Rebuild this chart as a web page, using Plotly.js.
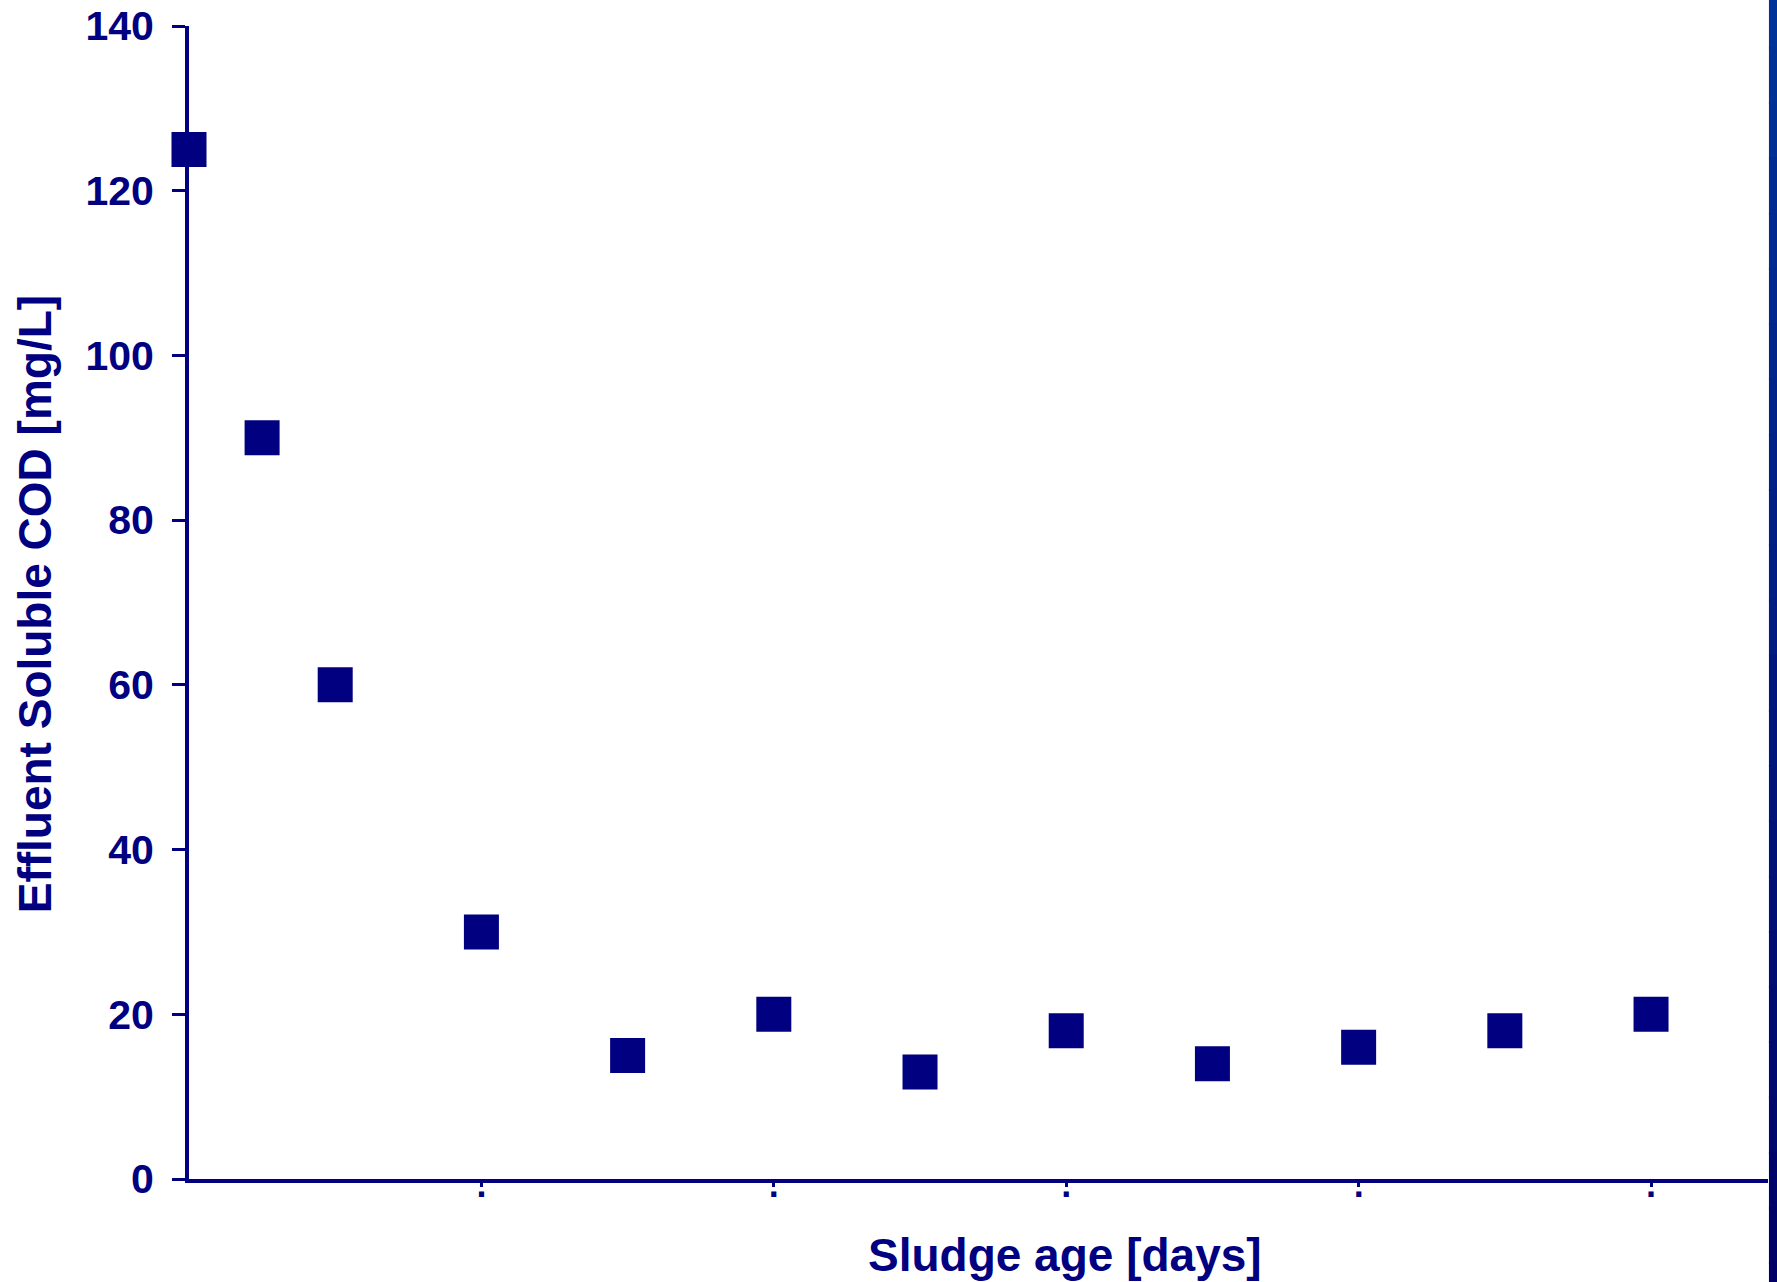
<!DOCTYPE html>
<html>
<head>
<meta charset="utf-8">
<script src="https://cdn.plot.ly/plotly-3.0.1.min.js"></script>
<style>html,body{margin:0;padding:0;background:#fff;}#chart{width:1777px;height:1282px;}</style>
</head>
<body>
<div id="chart"></div>
<script>
// Data
const sludgeAge = [0, 2.5, 5, 10, 15, 20, 25, 30, 35, 40, 45, 50];
const effluentCOD = [125, 90, 60, 30, 15, 20, 13, 18, 14, 16, 18, 20];
const xTickVals = [10, 20, 30, 40, 50];
const xTickText = ['.', '.', '.', '.', '.'];
const yTickVals = [0, 20, 40, 60, 80, 100, 120, 140];
const xTitle = 'Sludge age [days]';
const yTitle = 'Effluent Soluble COD [mg/L]';

const navy = '#000080';
const fontFam = '"Liberation Sans", Arial, sans-serif';

// right-edge decorative band (vertical gradient approximated by stacked rects)
const bandShapes = [];
const nBand = 24;
const bandTop = [0x00, 0x33, 0x99], bandBot = [0x00, 0x00, 0x66];
for (let i = 0; i < nBand; i++) {
  const t = i / (nBand - 1);
  const c = bandTop.map((v, k) => Math.round(v + (bandBot[k] - v) * t));
  const y1 = 1.03 - i * (1.15 / nBand);
  const y0 = y1 - 1.15 / nBand - 0.002;
  bandShapes.push({
    type: 'rect', xref: 'paper', yref: 'paper',
    x0: 1.0006, x1: 1.02, y0: y0, y1: y1,
    fillcolor: 'rgb(' + c.join(',') + ')', line: {width: 0}, layer: 'above'
  });
}

const trace = {
  x: sludgeAge,
  y: effluentCOD,
  type: 'scatter',
  mode: 'markers',
  marker: {symbol: 'square', size: 35, color: navy, line: {width: 0}},
  cliponaxis: false,
  hoverinfo: 'x+y'
};

const layout = {
  width: 1777,
  height: 1282,
  margin: {l: 189, r: 9, t: 26, b: 103, pad: 0},
  paper_bgcolor: '#ffffff',
  plot_bgcolor: '#ffffff',
  showlegend: false,
  font: {family: fontFam, color: navy},
  xaxis: {
    range: [0, 54],
    tickmode: 'array',
    tickvals: xTickVals,
    ticktext: xTickText,
    ticks: 'outside',
    ticklen: 4,
    tickwidth: 3,
    tickcolor: navy,
    tickfont: {family: fontFam, size: 36, color: navy, weight: 'bold'},
    ticklabelstandoff: -33,
    showline: true,
    linecolor: navy,
    linewidth: 4,
    showgrid: false,
    zeroline: false,
    fixedrange: true,
    layer: 'below traces'
  },
  yaxis: {
    range: [0, 140],
    tickmode: 'array',
    tickvals: yTickVals,
    ticks: 'outside',
    ticklen: 13,
    tickwidth: 3,
    tickcolor: navy,
    tickfont: {family: fontFam, size: 41, color: navy, weight: 'bold'},
    ticklabelstandoff: 10,
    showline: true,
    linecolor: navy,
    linewidth: 4,
    showgrid: false,
    zeroline: false,
    fixedrange: true,
    layer: 'below traces'
  },
  annotations: [{
    text: xTitle,
    xref: 'paper', yref: 'paper',
    x: 0.555, y: -0.066,
    xanchor: 'center', yanchor: 'middle',
    showarrow: false,
    font: {family: fontFam, size: 46, color: navy, weight: 'bold'}
  }, {
    text: yTitle,
    xref: 'paper', yref: 'paper',
    x: -0.0975, y: 0.4985,
    xanchor: 'center', yanchor: 'middle',
    textangle: -90,
    showarrow: false,
    font: {family: fontFam, size: 46, color: navy, weight: 'bold'}
  }],
  shapes: bandShapes
};

Plotly.newPlot('chart', [trace], layout, {displayModeBar: false, staticPlot: true});
</script>
</body>
</html>
